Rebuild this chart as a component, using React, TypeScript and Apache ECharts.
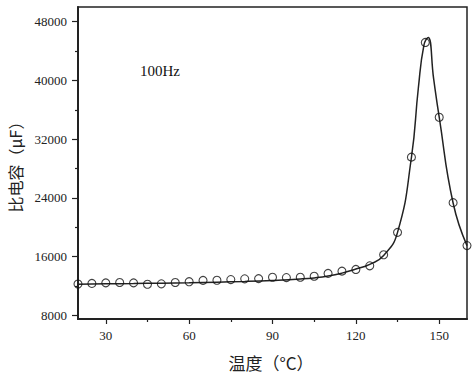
import React, { useEffect, useRef } from "react";
import * as echarts from "echarts";

const temps = [20, 25, 30, 35, 40, 45, 50, 55, 60, 65, 70, 75, 80, 85, 90, 95, 100, 105, 110, 115, 120, 125, 130, 135, 140, 145, 150, 155, 160];
const capValues = [12260, 12350, 12420, 12470, 12420, 12230, 12290, 12470, 12580, 12760, 12780, 12870, 12970, 13000, 13190, 13140, 13190, 13320, 13710, 14020, 14250, 14740, 16250, 19300, 29550, 45170, 34980, 23350, 17500];

const fitTemps = [20, 30, 40, 50, 60, 70, 80, 90, 100, 105, 110, 115, 120, 125, 130, 135, 140, 142.5, 144.5, 146, 148, 150, 155, 160];
const fitValues = [12250, 12300, 12330, 12380, 12430, 12520, 12620, 12760, 12950, 13100, 13350, 13750, 14300, 14950, 16150, 19300, 29500, 39000, 44800, 45850, 40200, 35000, 23300, 17500];

const xMajor = [30, 60, 90, 120, 150];
const xMinor = [45, 75, 105, 135];
const yMajor = [8000, 16000, 24000, 32000, 40000, 48000];
const yMinor = [12000, 20000, 28000, 36000, 44000];

const xTitle = "温度（°C）";
const yTitle = "比电容（μF）";
const annotation = "100Hz";

const serif = "Liberation Serif";
const cjk = "Noto Sans CJK SC";

export default function App() {
  const ref = useRef<HTMLDivElement>(null);
  useEffect(() => {
    if (!ref.current) return;
    document.body.style.margin = "0";
    const chart = echarts.init(ref.current, null, { renderer: "svg" });
    const minorX = {
      type: "value", position: "bottom", min: 20, max: 160,
      axisLine: { show: false }, splitLine: { show: false },
      axisLabel: { show: false },
      axisTick: { show: true, inside: false, length: 3, customValues: xMinor, lineStyle: { color: "#222", width: 1.2 } },
    };
    const minorY = {
      type: "value", position: "left", min: 7500, max: 50000,
      axisLine: { show: false }, splitLine: { show: false },
      axisLabel: { show: false },
      axisTick: { show: true, inside: false, length: 3, customValues: yMinor, lineStyle: { color: "#222", width: 1.2 } },
    };
    chart.setOption({
      animation: false,
      backgroundColor: "#fff",
      grid: {
        left: 78, top: 7, right: 7, bottom: 55, show: true,
        borderColor: "#222", borderWidth: 1.5, backgroundColor: "transparent",
        outerBoundsMode: "none", containLabel: false,
      },
      xAxis: [
        {
          type: "value", position: "bottom", min: 20, max: 160,
          axisLine: { show: true, onZero: false, lineStyle: { color: "#222", width: 2 } },
          splitLine: { show: false },
          axisTick: { show: true, inside: false, length: 5, customValues: xMajor, lineStyle: { color: "#222", width: 1.2 } },
          axisLabel: { customValues: xMajor, fontFamily: serif, fontSize: 13, color: "#222", margin: 10 },
        },
        minorX,
      ],
      yAxis: [
        {
          type: "value", position: "left", min: 7500, max: 50000,
          name: yTitle, nameLocation: "middle", nameGap: 55, nameRotate: 90,
          nameTextStyle: { fontFamily: cjk, fontSize: 16, color: "#222" },
          axisLine: { show: true, onZero: false, lineStyle: { color: "#222", width: 2 } },
          splitLine: { show: false },
          axisTick: { show: true, inside: false, length: 6, customValues: yMajor, lineStyle: { color: "#222", width: 1.2 } },
          axisLabel: { customValues: yMajor, formatter: (v: number) => String(v), fontFamily: serif, fontSize: 13, color: "#222", margin: 11 },
        },
        minorY,
      ],
      graphic: [
        { type: "text", left: 140, top: 63, style: { text: annotation, fontFamily: serif, fontSize: 15, fill: "#111" } },
        { type: "text", x: 271, y: 362, style: { text: xTitle, fontFamily: cjk, fontSize: 17, fill: "#222", textAlign: "center", textVerticalAlign: "middle" } },
      ],
      series: [
        {
          type: "line", smooth: 0.5, symbol: "none",
          data: fitTemps.map((t, i) => [t, fitValues[i]]),
          lineStyle: { color: "#222", width: 1.5 },
          xAxisIndex: 0, yAxisIndex: 0, z: 2,
        },
        {
          type: "scatter", symbol: "circle", symbolSize: 8,
          data: temps.map((t, i) => [t, capValues[i]]),
          itemStyle: { color: "rgba(0,0,0,0)", borderColor: "#111", borderWidth: 1.1 },
          xAxisIndex: 0, yAxisIndex: 0, z: 3,
        },
      ],
    });
    return () => chart.dispose();
  }, []);
  return <div ref={ref} style={{ width: 474, height: 374, margin: 0 }} />;
}
